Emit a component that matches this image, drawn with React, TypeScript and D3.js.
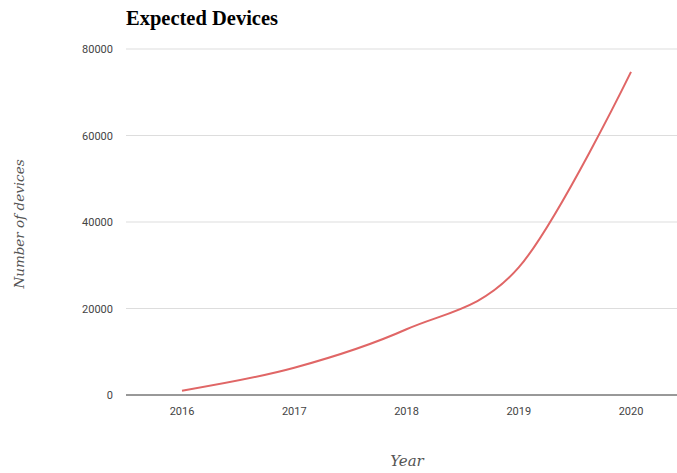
import React from "react";
import * as d3 from "d3";

const years = ["2016", "2017", "2018", "2019", "2020"];
const devices = [1000, 6300, 15200, 29500, 74700];
const yTicks = [0, 20000, 40000, 60000, 80000];

export default function App() {
  const W = 677, H = 473;
  const x = d3.scalePoint<string>().domain(years).range([182, 631]);
  const y = d3.scaleLinear().domain([0, 80000]).range([395, 49]);
  const line = d3
    .line<number>()
    .x((_, i) => x(years[i]) as number)
    .y((d) => y(d))
    .curve(d3.curveCardinal);
  return (
    <svg width={W} height={H} style={{ position: "absolute", left: 0, top: 0 }}>
      <rect width={W} height={H} fill="#fff" />
      <text x={126} y={25} fontFamily="Liberation Serif, serif" fontWeight="bold" fontSize={20.5} fill="#000">
        Expected Devices
      </text>
      {yTicks.map((t) => (
        <g key={t}>
          {t !== 0 && <line x1={126} x2={677} y1={y(t)} y2={y(t)} stroke="#ddd" strokeWidth={1} />}
          <text x={113} y={y(t) + 4} textAnchor="end" fontFamily="Roboto, sans-serif" fontSize={11} fill="#444">
            {t}
          </text>
        </g>
      ))}
      <path d={line(devices) ?? ""} fill="none" stroke="#e06666" strokeWidth={2} />
      <line x1={126} x2={677} y1={y(0)} y2={y(0)} stroke="#333" strokeWidth={1} />
      {years.map((yr) => (
        <text key={yr} x={x(yr)} y={415} textAnchor="middle" fontFamily="Roboto, sans-serif" fontSize={11} fill="#444">
          {yr}
        </text>
      ))}
      <text x={407} y={466} textAnchor="middle" fontFamily="DejaVu Serif, serif" fontStyle="italic" fontSize={15} fill="#555">
        Year
      </text>
      <text transform="translate(24,224) rotate(-90)" textAnchor="middle" fontFamily="DejaVu Serif, serif" fontStyle="italic" fontSize={13.5} fill="#555">
        Number of devices
      </text>
    </svg>
  );
}
